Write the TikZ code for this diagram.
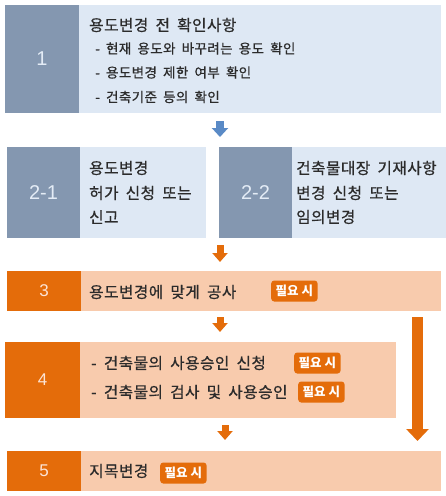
\documentclass[tikz,border=0pt]{standalone}
\usepackage{fontspec}
\setmainfont{Liberation Sans}
\newfontfamily\kr[LetterSpace=3, WordSpace=1.8, FakeBold=0.6]{Noto Sans CJK KR}
\newfontfamily\krbadge{Noto Sans CJK KR}
\usetikzlibrary{arrows.meta}
\definecolor{bdark}{HTML}{8497B0}
\definecolor{blight}{HTML}{DEE8F4}
\definecolor{bnumtxt}{HTML}{E4ECF6}
\definecolor{odark}{HTML}{E46C0A}
\definecolor{olight}{HTML}{F8CBAD}
\definecolor{onumtxt}{HTML}{FCE4D6}
\definecolor{txt}{HTML}{2B2B2B}
\definecolor{arrowblue}{HTML}{5A8AC6}
\tikzset{
  sz/.style 2 args={minimum width=#1pt, minimum height=#2pt},
  cell/.style={rectangle, inner sep=0pt, outer sep=0pt, anchor=north west, draw=none},
  bnum/.style={cell, fill=bdark, text=bnumtxt, font=\fontsize{20}{20}\selectfont},
  bbody/.style={cell, fill=blight},
  onum/.style={cell, fill=odark, text=onumtxt, font=\fontsize{17}{17}\selectfont},
  obody/.style={cell, fill=olight},
  lbl/.style={anchor=west, inner sep=0pt, text=txt, font=\kr\fontsize{15.7}{15.7}\selectfont},
  sublbl/.style={anchor=west, inner sep=0pt, text=txt, font=\kr\fontsize{13.5}{13.5}\selectfont},
  badge/.style={anchor=west, fill=odark, rounded corners=3pt, text=white,
    font=\krbadge\bfseries\fontsize{12.5}{12.5}\selectfont, inner xsep=4.5pt,
    minimum height=21pt, inner ysep=0pt},
  barrowb/.style={draw=arrowblue, line width=8pt, -{Triangle[width=16pt,length=9pt]}},
  barrowo/.style={draw=odark, line width=7pt, -{Triangle[width=15pt,length=9pt]}},
  barrowl/.style={draw=odark, line width=11pt, -{Triangle[width=22pt,length=12pt]}}
}
\begin{document}
\begin{tikzpicture}[x=1pt,y=-1pt]
\useasboundingbox[fill=white] (0,0) rectangle (446,496);
% Box 1
\node[bnum, sz={74}{108}] (n1) at (5,5) {1};
\node[bbody, sz={362}{108}] (b1) at (79,5) {};
\node[lbl] (t1a) at (89,25) {용도변경 전 확인사항};
\node[sublbl] (t1b) at (95,48.5) {- 현재 용도와 바꾸려는 용도 확인};
\node[sublbl] (t1c) at (95,72.5) {- 용도변경 제한 여부 확인};
\node[sublbl] (t1d) at (95,97) {- 건축기준 등의 확인};
% Box 2-1
\node[bnum, sz={73}{91}] (n21) at (7,147) {2-1};
\node[bbody, sz={126}{91}] (b21) at (80,147) {};
\node[lbl] (t21a) at (89,168) {용도변경};
\node[lbl] (t21b) at (89,193) {허가 신청 또는};
\node[lbl] (t21c) at (89,217) {신고};
% Box 2-2
\node[bnum, sz={73}{91}] (n22) at (219,147) {2-2};
\node[bbody, sz={154}{91}] (b22) at (292,147) {};
\node[lbl] (t22a) at (296,168) {건축물대장 기재사항};
\node[lbl] (t22b) at (296,193) {변경 신청 또는};
\node[lbl] (t22c) at (296,217) {임의변경};
% Box 3
\node[onum, sz={74}{40}] (n3) at (7,271) {3};
\node[obody, sz={360}{40}] (b3) at (81,271) {};
\node[lbl] (t3) at (89,292) {용도변경에 맞게 공사};
\node[badge] (g3) at (271,291) {필요 시};
% Box 4
\node[onum, sz={75}{76}] (n4) at (5,342) {4};
\node[obody, sz={316}{76}] (b4) at (80,342) {};
\node[lbl] (t4a) at (91,363) {- 건축물의 사용승인 신청};
\node[lbl] (t4b) at (91,392) {- 건축물의 검사 및 사용승인};
\node[badge] (g4a) at (294,363) {필요 시};
\node[badge] (g4b) at (298,392) {필요 시};
% Box 5
\node[onum, sz={74}{40}] (n5) at (7,451) {5};
\node[obody, sz={360}{40}] (b5) at (81,451) {};
\node[lbl] (t5) at (89,471) {지목변경};
\node[badge] (g5) at (160,473) {필요 시};
% Arrows
\coordinate (a1s) at (220,121); \coordinate (a1e) at (220,137);
\coordinate (a2s) at (220,245); \coordinate (a2e) at (220,262);
\coordinate (a3s) at (220,317); \coordinate (a3e) at (220,332);
\coordinate (a4s) at (225,425); \coordinate (a4e) at (225,440);
\coordinate (a5s) at (417.5,317); \coordinate (a5e) at (417.5,441);
\draw[barrowb] (a1s) -- (a1e);
\draw[barrowo] (a2s) -- (a2e);
\draw[barrowo] (a3s) -- (a3e);
\draw[barrowo] (a4s) -- (a4e);
\draw[barrowl] (a5s) -- (a5e);
\end{tikzpicture}
\end{document}
